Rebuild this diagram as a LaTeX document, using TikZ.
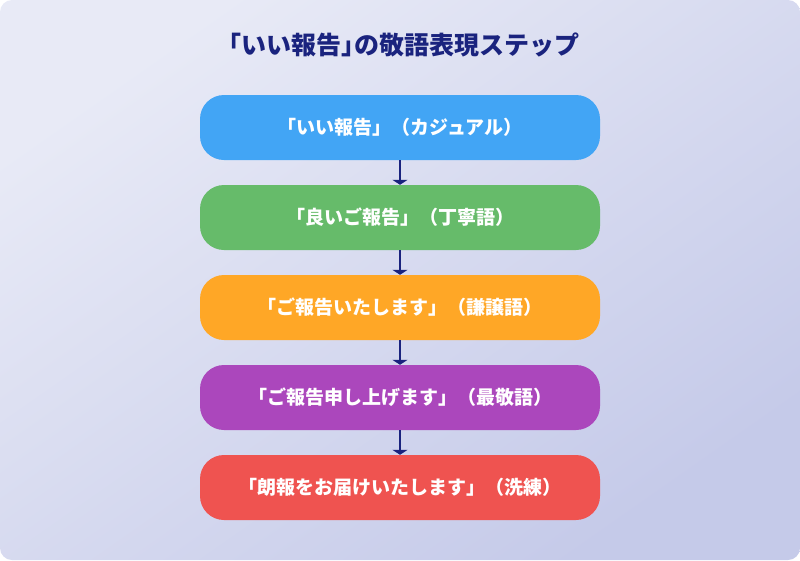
\documentclass[tikz,border=0pt]{standalone}
\usepackage{fontspec}
\setmainfont{Noto Sans CJK JP}
\usetikzlibrary{arrows.meta}
\definecolor{bgA}{HTML}{E8EAF6}
\definecolor{bgB}{HTML}{C5CAE9}
\definecolor{navy}{HTML}{1A237E}
\definecolor{cBlue}{HTML}{42A5F5}
\definecolor{cGreen}{HTML}{66BB6A}
\definecolor{cOrange}{HTML}{FFA726}
\definecolor{cPurple}{HTML}{AB47BC}
\definecolor{cRed}{HTML}{EF5350}
\tikzset{
  stepbox/.style={draw=none, rounded corners=24pt, minimum width=400pt, minimum height=65pt,
    inner sep=0pt, text=white, font=\bfseries\fontsize{19}{22}\selectfont},
  conn/.style={draw=navy, line width=2.5pt, -{Triangle[width=15pt,length=5pt]}}
}
\begin{document}
\begin{tikzpicture}[x=1pt,y=-1pt]
\useasboundingbox (0,0) rectangle (800,560);
\shade[rounded corners=12pt, left color=bgA, right color=bgB, shading angle=35] (0,0) rectangle (800,560);
\node[text=navy, font=\bfseries\fontsize{25}{28}\selectfont] (title) at (398,45) {「いい報告」\kern-0.5em の敬語表現ステップ};
\node[stepbox, fill=cBlue] (s1) at (400,127.5) {「いい報告」（カジュアル）};
\node[stepbox, fill=cGreen] (s2) at (400,217.5) {「良いご報告」（丁寧語）};
\node[stepbox, fill=cOrange] (s3) at (400,307.5) {「ご報告いたします」（謙譲語）};
\node[stepbox, fill=cPurple] (s4) at (400,397.5) {「ご報告申し上げます」（最敬語）};
\node[stepbox, fill=cRed] (s5) at (400,487.5) {「朗報をお届けいたします」（洗練）};
\draw[conn] (s1.south) -- (s2.north);
\draw[conn] (s2.south) -- (s3.north);
\draw[conn] (s3.south) -- (s4.north);
\draw[conn] (s4.south) -- (s5.north);
\end{tikzpicture}
\end{document}
